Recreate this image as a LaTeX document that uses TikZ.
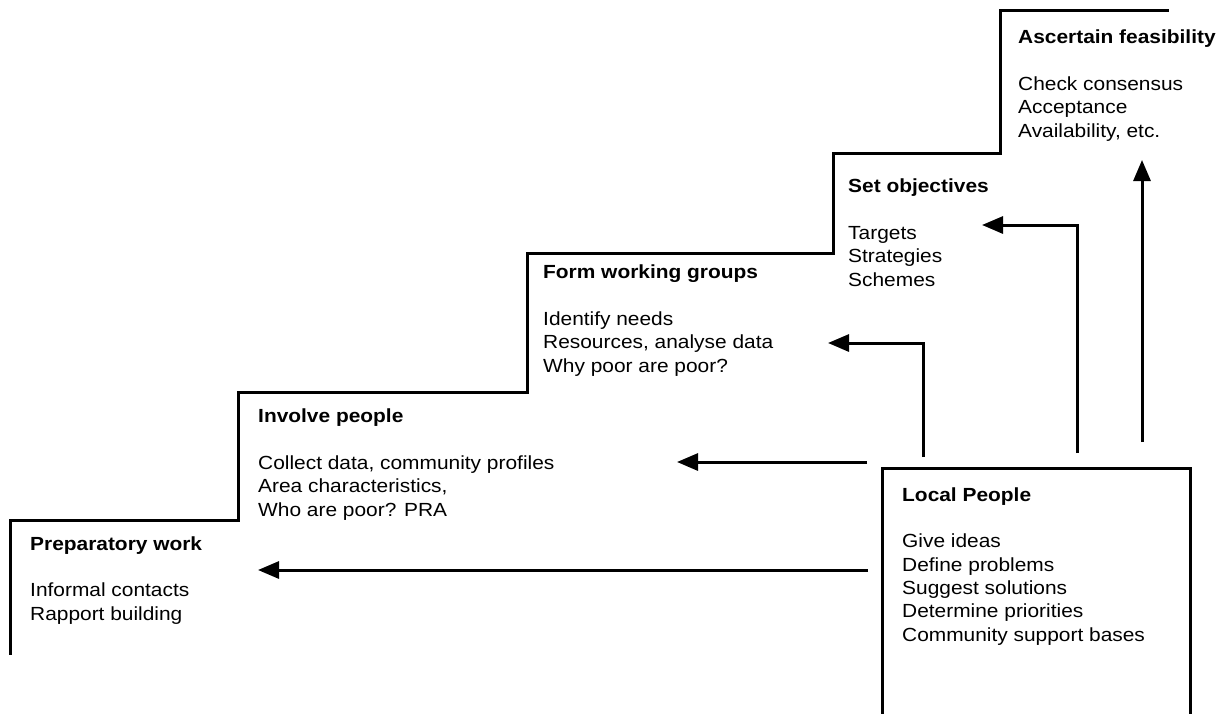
\documentclass[tikz,border=0pt]{standalone}
\usepackage{fontspec}
\setmainfont[FakeStretch=1.1]{Liberation Sans}
\usetikzlibrary{arrows.meta}
\begin{document}
\begin{tikzpicture}[x=1pt,y=-1pt,
  line/.style={line width=3pt,line cap=rect,line join=miter},
  arr/.style={line width=3pt,-{Triangle[length=21pt,width=17pt]}},
  txt/.style={anchor=base west,inner sep=0pt,align=left,font=\fontsize{19}{23.3}\selectfont}]
\useasboundingbox (0,0) rectangle (1231,713);
% staircase
\draw[line] (10,653)--(10,520)--(238,520)--(238,392)--(527,392)--(527,253)--(833,253)--(833,153)--(1000,153)--(1000,10)--(1167,10);
% local people box (open at bottom)
\draw[line] (882,713)--(882,468)--(1190,468)--(1190,713);
% texts (base anchor = baseline of last line)
\node[txt] (prep) at (30,620) {\textbf{Preparatory work}\\[23.3pt]Informal contacts\\Rapport building};
\node[txt] (inv) at (258,516) {\textbf{Involve people}\\[23.3pt]Collect data, community profiles\\Area characteristics,\\Who are poor? PRA};
\node[txt] (form) at (543,372) {\textbf{Form working groups}\\[23.3pt]Identify needs\\Resources, analyse data\\Why poor are poor?};
\node[txt] (set) at (848,286) {\textbf{Set objectives}\\[23.3pt]Targets\\Strategies\\Schemes};
\node[txt] (asc) at (1018,137) {\textbf{Ascertain feasibility}\\[23.3pt]Check consensus\\Acceptance\\Availability, etc.};
\node[txt] (loc) at (902,641) {\textbf{Local People}\\[23.3pt]Give ideas\\Define problems\\Suggest solutions\\Determine priorities\\Community support bases};
% arrow coordinates
\coordinate (s1) at (868,570); \coordinate (e1) at (258,570);
\coordinate (s2) at (867,462); \coordinate (e2) at (677,462);
\coordinate (s3) at (923,457); \coordinate (e3) at (828,343);
\coordinate (s4) at (1077,453); \coordinate (e4) at (982,225);
\coordinate (s5) at (1142,442); \coordinate (e5) at (1142,160);
\draw[arr] (s1) -- (e1);
\draw[arr] (s2) -- (e2);
\draw[arr] (s3) |- (e3);
\draw[arr] (s4) |- (e4);
\draw[arr] (s5) -- (e5);
\end{tikzpicture}
\end{document}
